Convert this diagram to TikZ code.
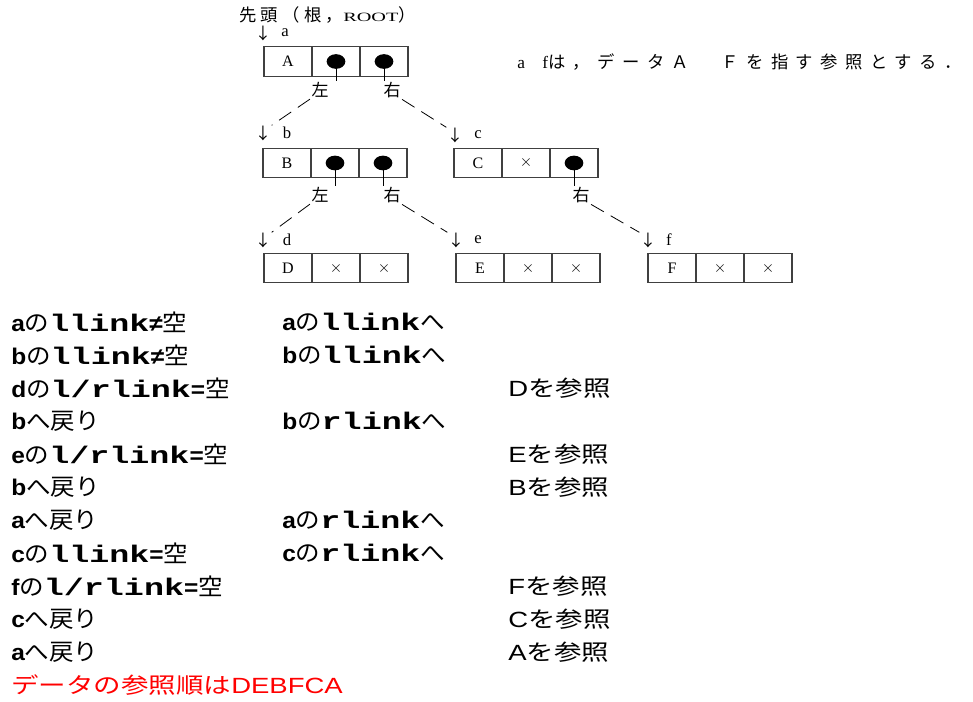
\documentclass[tikz,border=0pt]{standalone}
\usepackage{fontspec}
\setmainfont{Liberation Serif}
\newfontfamily\jp{Noto Sans CJK JP}[FakeStretch=1.05]
\newfontfamily\jpr{Noto Sans CJK JP}[FakeStretch=1.25]
\newfontfamily\jpw{Noto Sans CJK JP}[LetterSpace=25]
\newfontfamily\jpn{Noto Sans CJK JP}[LetterSpace=43]
\newfontfamily\rootf{Liberation Serif}[FakeStretch=1.6]
\newfontfamily\ar{Liberation Sans}[FakeStretch=1.25]
\newfontfamily\arb{Liberation Sans}[FakeStretch=1.08]
\newfontfamily\mo{Liberation Mono}[FakeStretch=1.39]
\newcommand\fsz[1]{\fontsize{#1}{#1}\selectfont}
\usetikzlibrary{shapes.geometric}
\begin{document}
\begin{tikzpicture}[x=0.75pt,y=-0.75pt,
  cell/.style={draw=black!75, line width=0.9pt, minimum width=36pt, minimum height=22pt, inner sep=0pt, font=\fsz{12pt}},
  ptr/.style={ellipse, fill=black, minimum width=14pt, minimum height=11pt, inner sep=0pt},
  side/.style={font=\jpw\fsz{12.75pt}, inner sep=1pt},
  down/.style={font=\jp\fsz{12pt}, inner sep=0pt},
  lbl/.style={font=\fsz{12.5pt}, inner sep=0pt},
  link/.style={dashed, dash pattern=on 11pt off 6pt, line width=0.6pt},
  step1/.style={anchor=west, inner sep=0pt, font=\fsz{17.5pt}},
  res/.style={anchor=west, inner sep=0pt, font=\ar\fsz{16.5pt}}
]
\useasboundingbox (0,0) rectangle (973,702);
% header
\node[anchor=west, inner sep=0pt, font=\jpw\fsz{13pt}] (head) at (239,15) {先頭（根，{\rootf\fsz{9.5pt}ROOT}）};
\node[anchor=west, inner sep=0pt, font=\jpn\fsz{13pt}] (note) at (517,62) {{\rmfamily a}　{\rmfamily f}は，データＡ　Ｆを指す参照とする．};
% record A
\node[down] (arA) at (263,33) {↓};
\node[lbl] (la) at (285,33) {a};
\node[cell] (A1) at (288,61.5) {A};
\node[cell] (A2) at (336,61.5) {};
\node[cell] (A3) at (384,61.5) {};
\node[ptr] (Ad2) at (A2) {};
\node[ptr] (Ad3) at (A3) {};
\node[side] (Al) at (320,90) {左};
\node[side] (Ar) at (392,90) {右};
\draw (Ad2.center) -- (Ad2.center |- Al.north);
\draw (Ad3.center) -- (Ad3.center |- Ar.north);
% record B
\node[down] (arB) at (263,133) {↓};
\node[lbl] (lb) at (287,133) {b};
\node[cell] (B1) at (287,163) {B};
\node[cell] (B2) at (335,163) {};
\node[cell] (B3) at (383,163) {};
\node[ptr] (Bd2) at (B2) {};
\node[ptr] (Bd3) at (B3) {};
\node[side] (Bl) at (320,195) {左};
\node[side] (Br) at (392,195) {右};
\draw (Bd2.center) -- (Bd2.center |- Bl.north);
\draw (Bd3.center) -- (Bd3.center |- Br.north);
% record C
\node[down] (arC) at (455,135) {↓};
\node[lbl] (lc) at (478,135) {c};
\node[cell] (C1) at (478,163) {C};
\node[cell] (C2) at (526,163) {$\times$};
\node[cell] (C3) at (574,163) {};
\node[ptr] (Cd3) at (C3) {};
\node[side] (Cr) at (581,195) {右};
\draw (Cd3.center) -- (Cd3.center |- Cr.north);
% record D
\node[down] (arD) at (263,240) {↓};
\node[lbl] (ld) at (287,240) {d};
\node[cell] (D1) at (288,268) {D};
\node[cell] (D2) at (336,268) {$\times$};
\node[cell] (D3) at (384,268) {$\times$};
% record E
\node[down] (arE) at (456,240) {↓};
\node[lbl] (le) at (478,240) {e};
\node[cell] (E1) at (480,268) {E};
\node[cell] (E2) at (528,268) {$\times$};
\node[cell] (E3) at (576,268) {$\times$};
% record F
\node[down] (arF) at (648,240) {↓};
\node[lbl] (lf) at (669,240) {f};
\node[cell] (F1) at (672,268) {F};
\node[cell] (F2) at (720,268) {$\times$};
\node[cell] (F3) at (768,268) {$\times$};
% links
\draw[link] (Al.south west) -- (arB.north east);
\draw[link] (Ar.south east) -- (arC.north west);
\draw[link] (Bl.south west) -- (arD.north east);
\draw[link] (Br.south east) -- (arE.north west);
\draw[link] (Cr.south east) -- (arF.north west);
% steps
\newcommand\A[1]{{\arb\bfseries\fsz{17pt}#1}}
\newcommand\J[1]{{\jp #1}}
\newcommand\M[1]{{\mo\bfseries\fsz{18pt}#1}}
\node[step1] (L1) at (11,322) {\A{a}\J{の}\M{llink}\A{≠}\J{空}};
\node[step1] (L2) at (11,355) {\A{b}\J{の}\M{llink}\A{≠}\J{空}};
\node[step1] (L3) at (11,388) {\A{d}\J{の}\M{l/rlink}\A{=}\J{空}};
\node[step1] (L4) at (11,421) {\A{b}\J{へ戻り}};
\node[step1] (L5) at (11,454) {\A{e}\J{の}\M{l/rlink}\A{=}\J{空}};
\node[step1] (L6) at (11,487) {\A{b}\J{へ戻り}};
\node[step1] (L7) at (11,520) {\A{a}\J{へ戻り}};
\node[step1] (L8) at (11,553) {\A{c}\J{の}\M{llink}\A{=}\J{空}};
\node[step1] (L9) at (11,586) {\A{f}\J{の}\M{l/rlink}\A{=}\J{空}};
\node[step1] (L10) at (11,619) {\A{c}\J{へ戻り}};
\node[step1] (L11) at (11,652) {\A{a}\J{へ戻り}};
\node[res, text=red] (L12) at (11,685) {{\jpr データの参照順は}DEBFCA};
\node[step1] (M1) at (282,322) {\A{a}\J{の}\M{llink}\J{へ}};
\node[step1] (M2) at (282,355) {\A{b}\J{の}\M{llink}\J{へ}};
\node[step1] (M4) at (282,421) {\A{b}\J{の}\M{rlink}\J{へ}};
\node[step1] (M7) at (282,520) {\A{a}\J{の}\M{rlink}\J{へ}};
\node[step1] (M8) at (282,553) {\A{c}\J{の}\M{rlink}\J{へ}};
\node[res] (R3) at (508,388) {D{\jpr を参照}};
\node[res] (R5) at (508,454) {E{\jpr を参照}};
\node[res] (R6) at (508,487) {B{\jpr を参照}};
\node[res] (R9) at (508,586) {F{\jpr を参照}};
\node[res] (R10) at (508,619) {C{\jpr を参照}};
\node[res] (R11) at (508,652) {A{\jpr を参照}};
\end{tikzpicture}
\end{document}
